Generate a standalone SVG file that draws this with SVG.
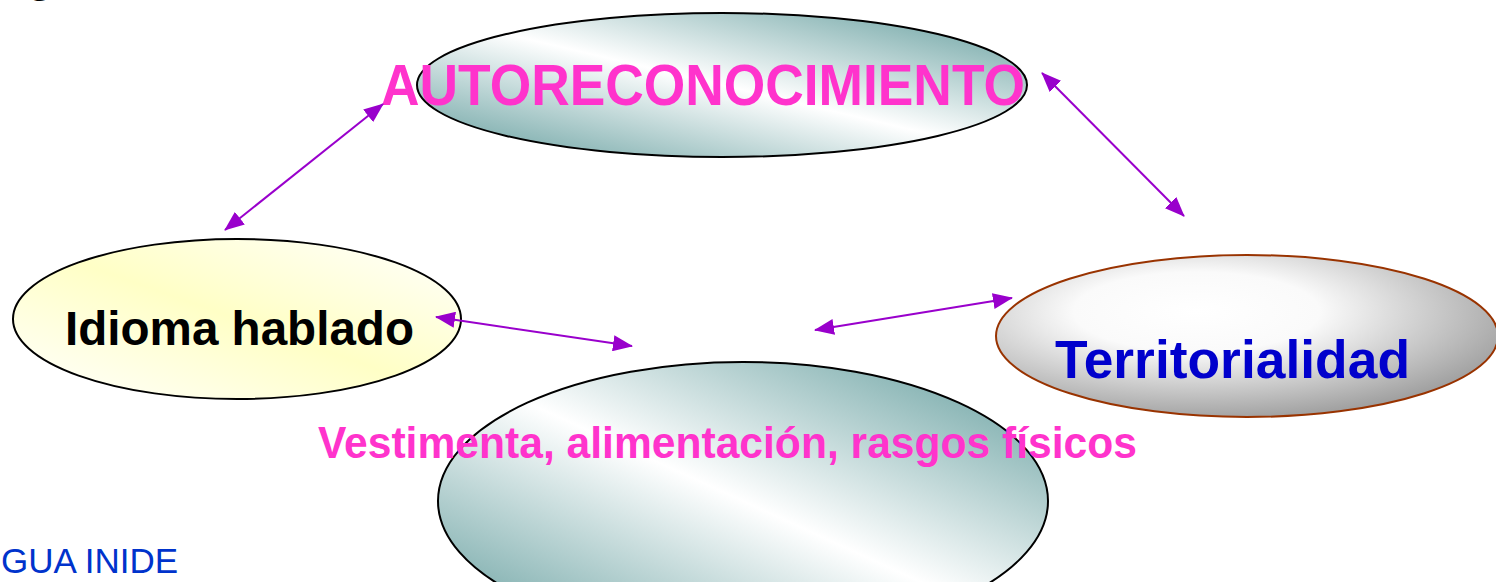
<svg xmlns="http://www.w3.org/2000/svg" width="1496" height="582" viewBox="0 0 1496 582">
  <style>
    .b { font-family: "Liberation Sans", Arial, sans-serif; font-weight: bold; }
    .pink { fill: #FF33CC; }
    .conn { stroke: #9900CC; stroke-width: 2; fill: none; marker-start: url(#arrS); marker-end: url(#arrE); }
  </style>
  <defs>
    <marker id="arrE" viewBox="0 0 20 16" refX="19" refY="8" markerWidth="20" markerHeight="16" markerUnits="userSpaceOnUse" orient="auto">
      <path d="M0,0 L20,8 L0,16 Z" fill="#9900CC"/>
    </marker>
    <marker id="arrS" viewBox="0 0 20 16" refX="1" refY="8" markerWidth="20" markerHeight="16" markerUnits="userSpaceOnUse" orient="auto">
      <path d="M20,0 L0,8 L20,16 Z" fill="#9900CC"/>
    </marker>
    <linearGradient id="teal" x1="0" y1="1" x2="1" y2="0">
      <stop offset="0" stop-color="#5E9A9A"/>
      <stop offset="0.5" stop-color="#FFFFFF"/>
      <stop offset="1" stop-color="#5E9A9A"/>
    </linearGradient>
    <linearGradient id="yellow" x1="0" y1="1" x2="1" y2="0">
      <stop offset="0" stop-color="#FFFFFF"/>
      <stop offset="0.5" stop-color="#FFFFC6"/>
      <stop offset="1" stop-color="#FFFFFF"/>
    </linearGradient>
    <radialGradient id="gray" cx="0.4" cy="0.35" r="0.7">
      <stop offset="0" stop-color="#FFFFFF"/>
      <stop offset="0.35" stop-color="#FAFAFA"/>
      <stop offset="1" stop-color="#9A9A9A"/>
    </radialGradient>
  </defs>

  <g id="title-fragment">
    <text class="b" x="26" y="-9" font-size="46" fill="#000">g</text>
    <text x="302" y="-7" font-family="Liberation Sans, Arial, sans-serif" font-size="28" fill="#000">(</text>
  </g>

  <g id="node-autoreconocimiento">
    <ellipse cx="722" cy="85" rx="305" ry="72" fill="url(#teal)" stroke="#000" stroke-width="2"/>
    <text class="b pink" x="381" y="105" font-size="58" textLength="644" lengthAdjust="spacingAndGlyphs">AUTORECONOCIMIENTO</text>
  </g>

  <g id="node-idioma">
    <ellipse cx="237" cy="319" rx="224" ry="80" fill="url(#yellow)" stroke="#000" stroke-width="2"/>
    <text class="b" x="65" y="345" font-size="48" fill="#000" textLength="349" lengthAdjust="spacingAndGlyphs">Idioma hablado</text>
  </g>

  <g id="node-territorialidad">
    <ellipse cx="1247" cy="336" rx="251" ry="81" fill="url(#gray)" stroke="#993300" stroke-width="2"/>
    <text class="b" x="1055" y="378" font-size="53" fill="#0000CC" textLength="355" lengthAdjust="spacingAndGlyphs">Territorialidad</text>
  </g>

  <g id="node-vestimenta">
    <ellipse cx="743" cy="501" rx="305" ry="139" fill="url(#teal)" stroke="#000" stroke-width="2"/>
    <text class="b pink" x="318" y="458" font-size="44" textLength="819" lengthAdjust="spacingAndGlyphs">Vestimenta, alimentación, rasgos físicos</text>
  </g>

  <g id="footer">
    <text x="178" y="573" text-anchor="end" font-family="Liberation Sans, Arial, sans-serif" font-size="35" fill="#0033CC">GUA INIDE</text>
  </g>

  <g id="connectors">
    <line class="conn" x1="383" y1="104" x2="225" y2="230"/>
    <line class="conn" x1="1042" y1="73" x2="1184" y2="216"/>
    <line class="conn" x1="436" y1="317" x2="632" y2="346"/>
    <line class="conn" x1="815" y1="330" x2="1012" y2="298"/>
  </g>
</svg>
